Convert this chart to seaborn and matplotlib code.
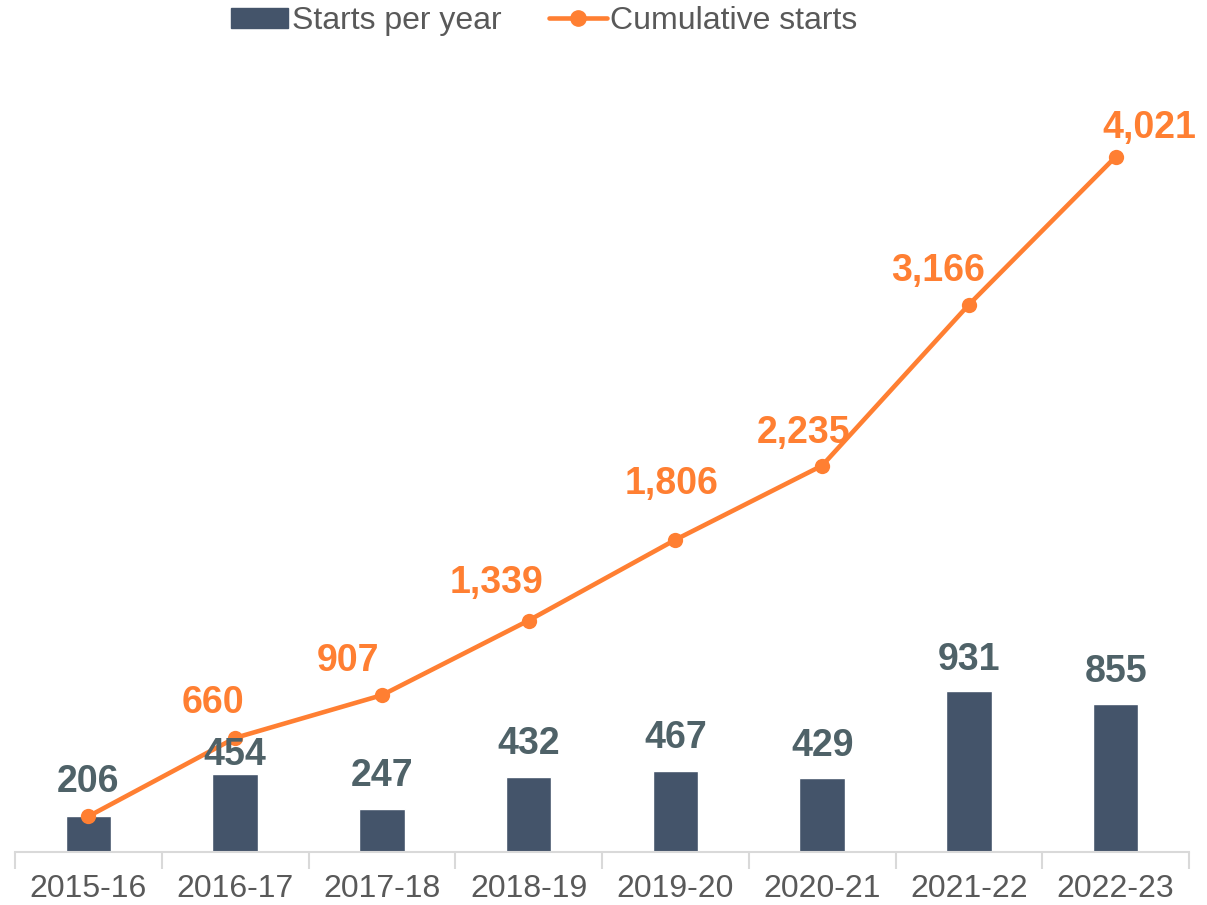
import matplotlib
matplotlib.use("Agg")
import matplotlib.pyplot as plt
import seaborn as sns
import numpy as np
import pandas as pd
from matplotlib.patches import Patch
from matplotlib.lines import Line2D

years = ["2015-16", "2016-17", "2017-18", "2018-19", "2019-20", "2020-21", "2021-22", "2022-23"]
starts = [206, 454, 247, 432, 467, 429, 931, 855]
cumulative = [206, 660, 907, 1339, 1806, 2235, 3166, 4021]

# label offsets in pixels (style only)
bar_off = [(0, 34), (0, 19), (0, 33), (0, 33), (0, 33), (0, 32), (0, 31), (0, 32)]
line_off = [None, (-22, 35), (-34, 34), (-32, 38), (-4, 56), (-19, 33), (-31, 34), (34, 29)]

BAR = "#44546A"
ORANGE = "#FF7F32"
GREY = "#595959"
LBL = "#4F6268"

sns.set_theme(style="white")
plt.rcParams['font.family'] = ['Liberation Sans', 'DejaVu Sans']

fig = plt.figure(figsize=(12.07, 9.05), dpi=100)
ax = fig.add_axes([15/1207, 53/905, 1174/1207, 778/905])

df = pd.DataFrame({"year": years, "starts": starts, "cum": cumulative, "pos": np.arange(len(years))})
sns.barplot(data=df, x="year", y="starts", color=BAR, width=0.31, saturation=1, ax=ax, zorder=2)
sns.lineplot(data=df, x="pos", y="cum", color=ORANGE, linewidth=3.3, marker="o", markersize=11,
             markeredgewidth=0, ax=ax, zorder=3, sort=False)

ax.set_xlim(-0.5, len(years) - 0.5)
ax.set_ylim(0, 4500)
ax.set_yticks([])
ax.set_xlabel("")
ax.set_ylabel("")
for s in ["top", "right", "left"]:
    ax.spines[s].set_visible(False)
ax.spines["bottom"].set_color("#D9D9D9")
ax.spines["bottom"].set_linewidth(1.5)

ax.set_xticks(np.arange(len(years)))
ax.set_xticklabels(years, fontsize=23, color=GREY)
ax.set_xticks(np.arange(-0.5, len(years)), minor=True)
ax.tick_params(axis="x", which="major", length=0, pad=16)
ax.tick_params(axis="x", which="minor", length=12, width=1.5, color="#D9D9D9", bottom=True)

for i, v in enumerate(starts):
    ax.annotate(f"{v:,}", (i, v), xytext=bar_off[i], textcoords="offset pixels",
                ha="center", va="center", fontsize=27, fontweight="bold", color=LBL, zorder=4)
for i, v in enumerate(cumulative):
    if line_off[i] is None:
        continue
    ax.annotate(f"{v:,}", (i, v), xytext=line_off[i], textcoords="offset pixels",
                ha="center", va="center", fontsize=27, fontweight="bold", color=ORANGE, zorder=4)

handles = [Patch(facecolor=BAR, edgecolor=BAR),
           Line2D([0], [0], color=ORANGE, linewidth=3.3, marker="o", markersize=11)]
fig.legend(handles, ["Starts per year", "Cumulative starts"], loc="center",
           bbox_to_anchor=(544/1207, 1 - 21/905), ncol=2, frameon=False, fontsize=23,
           labelcolor=GREY, handlelength=1.8, handletextpad=0.1, columnspacing=1.5,
           handleheight=0.6)

fig.savefig("out.png", dpi=100)
